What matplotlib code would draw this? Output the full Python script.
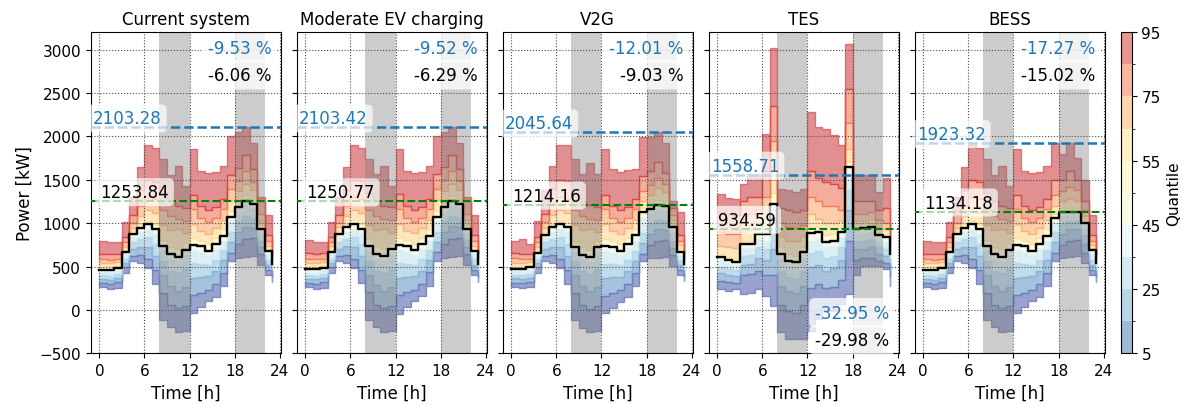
import matplotlib.pyplot as plt
import matplotlib.transforms as mtransforms
import numpy as np
from matplotlib.cm import ScalarMappable
from matplotlib.colors import BoundaryNorm, ListedColormap

hours = np.arange(24)
levels = [5, 15, 25, 35, 45, 50, 55, 65, 75, 85, 95]

# hourly load quantiles per scenario, rows follow `levels`
current_system = [
	[262, 240, 255, 430, 560, 540, 480, 300, -120, -200, -258, -240, -40, 30, 100, 150, 280, 560, 600, 610, 620, 520, 400, 320],
	[310, 300, 320, 490, 620, 630, 590, 460, 200, 60, 20, 40, 170, 200, 230, 300, 430, 660, 760, 820, 830, 640, 460, 380],
	[360, 350, 365, 540, 700, 730, 720, 620, 400, 280, 220, 260, 370, 380, 390, 450, 570, 780, 900, 960, 950, 720, 520, 420],
	[400, 395, 410, 590, 780, 820, 840, 760, 560, 450, 420, 470, 540, 530, 520, 580, 690, 900, 1020, 1080, 1060, 800, 580, 460],
	[440, 440, 455, 640, 840, 900, 930, 880, 690, 590, 560, 630, 690, 670, 630, 700, 800, 1020, 1135, 1205, 1165, 880, 640, 500],
	[465, 465, 480, 665, 875, 950, 985, 935, 740, 645, 615, 695, 750, 735, 685, 760, 850, 1075, 1185, 1254, 1220, 935, 675, 530],
	[490, 490, 505, 690, 905, 990, 1030, 990, 810, 730, 700, 770, 830, 800, 760, 830, 930, 1140, 1250, 1320, 1280, 980, 700, 545],
	[540, 540, 550, 730, 950, 1080, 1150, 1120, 980, 920, 930, 890, 990, 910, 880, 940, 1040, 1260, 1370, 1450, 1380, 1030, 740, 570],
	[590, 580, 590, 780, 1000, 1200, 1300, 1280, 1150, 1080, 1050, 1030, 1160, 1060, 1010, 1060, 1160, 1390, 1490, 1600, 1480, 1100, 790, 600],
	[650, 640, 650, 840, 1090, 1380, 1500, 1480, 1350, 1250, 1200, 1180, 1330, 1200, 1150, 1190, 1280, 1560, 1640, 1780, 1620, 1250, 860, 650],
	[800, 780, 780, 1010, 1300, 1650, 1900, 1870, 1740, 1560, 1660, 1430, 1850, 1600, 1580, 1590, 1660, 2000, 2050, 2103, 1920, 1300, 1090, 800],
]

moderate_ev = [
	[265, 242, 255, 428, 560, 545, 482, 305, -115, -200, -255, -240, -45, 30, 100, 155, 280, 565, 600, 612, 620, 522, 400, 322],
	[312, 300, 322, 490, 622, 632, 592, 462, 205, 62, 22, 42, 170, 202, 232, 302, 432, 662, 760, 822, 830, 642, 462, 382],
	[362, 352, 366, 540, 702, 732, 722, 622, 402, 282, 222, 262, 372, 382, 392, 452, 572, 782, 902, 962, 952, 722, 522, 422],
	[402, 396, 412, 590, 782, 822, 842, 762, 562, 452, 422, 472, 542, 532, 522, 582, 692, 902, 1022, 1080, 1060, 802, 582, 462],
	[442, 442, 456, 640, 842, 902, 932, 882, 692, 592, 562, 632, 692, 672, 632, 702, 802, 1020, 1132, 1200, 1162, 882, 642, 502],
	[467, 467, 482, 665, 877, 952, 987, 937, 742, 647, 617, 697, 752, 737, 687, 762, 852, 1072, 1182, 1251, 1218, 937, 677, 532],
	[492, 492, 506, 690, 907, 992, 1032, 992, 812, 732, 702, 772, 832, 802, 762, 832, 932, 1138, 1248, 1318, 1278, 982, 702, 547],
	[542, 542, 552, 732, 952, 1082, 1152, 1122, 982, 922, 932, 892, 992, 912, 882, 942, 1042, 1262, 1372, 1452, 1382, 1032, 742, 572],
	[592, 582, 592, 782, 1002, 1202, 1302, 1282, 1152, 1082, 1052, 1032, 1162, 1062, 1012, 1062, 1162, 1392, 1492, 1602, 1482, 1102, 792, 602],
	[652, 642, 652, 842, 1092, 1382, 1502, 1482, 1352, 1252, 1202, 1182, 1332, 1202, 1152, 1192, 1282, 1562, 1642, 1782, 1622, 1252, 862, 652],
	[802, 782, 782, 1012, 1302, 1652, 1902, 1872, 1742, 1562, 1662, 1432, 1852, 1602, 1582, 1592, 1662, 2002, 2052, 2103, 1922, 1302, 1092, 802],
]

v2g = [
	[270, 250, 260, 430, 560, 540, 480, 300, -120, -210, -260, -240, -40, 20, 90, 150, 280, 560, 600, 600, 610, 510, 400, 330],
	[315, 305, 320, 490, 620, 630, 590, 460, 200, 55, 15, 40, 165, 195, 225, 295, 425, 650, 750, 800, 810, 630, 460, 385],
	[365, 355, 368, 540, 700, 730, 720, 620, 400, 275, 215, 260, 365, 375, 385, 445, 565, 770, 880, 930, 925, 710, 520, 425],
	[405, 400, 412, 590, 780, 820, 840, 760, 560, 445, 415, 470, 535, 525, 515, 575, 685, 890, 990, 1040, 1030, 790, 580, 465],
	[448, 448, 465, 630, 835, 900, 930, 900, 680, 585, 555, 660, 680, 660, 630, 710, 800, 1060, 1110, 1160, 1140, 900, 630, 505],
	[473, 473, 492, 654, 866, 954, 985, 954, 723, 635, 608, 723, 742, 723, 685, 762, 858, 1127, 1166, 1214, 1196, 954, 665, 531],
	[495, 495, 510, 680, 895, 995, 1030, 1000, 800, 720, 690, 790, 820, 790, 760, 830, 930, 1180, 1220, 1270, 1250, 990, 700, 545],
	[545, 545, 555, 725, 950, 1090, 1150, 1120, 980, 920, 930, 900, 990, 910, 880, 940, 1040, 1260, 1330, 1400, 1360, 1040, 745, 575],
	[595, 585, 590, 780, 1010, 1210, 1300, 1280, 1150, 1080, 1050, 1040, 1160, 1060, 1010, 1060, 1160, 1370, 1440, 1520, 1450, 1090, 790, 600],
	[655, 645, 650, 840, 1100, 1390, 1500, 1490, 1350, 1250, 1210, 1190, 1330, 1200, 1150, 1190, 1280, 1540, 1600, 1700, 1580, 1170, 860, 650],
	[800, 820, 760, 1030, 1380, 1660, 1900, 1900, 1740, 1570, 1690, 1570, 1860, 1630, 1590, 1610, 1630, 1990, 1990, 2046, 1920, 1250, 1130, 820],
]

tes = [
	[242, 223, 242, 185, 200, 242, 165, 50, -258, -335, -335, -340, -238, -104, -8, -8, 69, 185, 400, 510, 510, 510, 470, 281],
	[330, 320, 310, 400, 410, 450, 400, 400, 60, -10, -30, 60, 250, 300, 250, 270, 350, 800, 580, 600, 600, 560, 540, 380],
	[420, 400, 390, 520, 530, 600, 580, 700, 280, 220, 200, 280, 500, 520, 450, 480, 580, 1150, 700, 700, 720, 640, 620, 460],
	[500, 480, 460, 620, 630, 720, 700, 900, 450, 380, 360, 450, 660, 680, 600, 620, 720, 1380, 800, 800, 820, 720, 700, 540],
	[570, 540, 515, 710, 715, 820, 800, 1100, 590, 510, 490, 600, 800, 820, 720, 740, 840, 1560, 880, 890, 900, 800, 780, 600],
	[608, 577, 550, 762, 762, 877, 877, 1223, 646, 569, 550, 665, 885, 904, 781, 800, 904, 1646, 935, 943, 954, 858, 839, 646],
	[640, 610, 590, 800, 800, 920, 920, 1350, 720, 640, 620, 720, 950, 960, 860, 870, 960, 1700, 960, 970, 990, 880, 870, 660],
	[740, 720, 710, 900, 920, 1000, 1050, 1650, 850, 800, 790, 850, 1100, 1050, 1000, 1000, 1030, 1850, 1020, 1020, 1050, 950, 930, 700],
	[900, 880, 870, 1050, 1100, 1150, 1300, 1950, 1000, 960, 950, 980, 1300, 1250, 1200, 1200, 1150, 2150, 1100, 1100, 1130, 1040, 1000, 760],
	[1130, 1100, 1090, 1250, 1300, 1300, 1600, 2350, 1170, 1150, 1130, 1150, 1600, 1520, 1480, 1450, 1400, 2550, 1250, 1250, 1260, 1150, 1170, 850],
	[1339, 1289, 1273, 1454, 1570, 1570, 2031, 3020, 1396, 1377, 1358, 1396, 2281, 2108, 2089, 2012, 1897, 3070, 1558, 1558, 1558, 1358, 1520, 1000],
]

bess = [
	[262, 240, 255, 430, 560, 540, 480, 300, -120, -200, -258, -240, -40, 30, 100, 150, 280, 560, 600, 610, 620, 540, 400, 320],
	[310, 300, 320, 490, 620, 630, 590, 460, 200, 60, 20, 40, 170, 200, 230, 300, 430, 660, 750, 800, 810, 660, 460, 380],
	[360, 350, 365, 540, 700, 730, 720, 620, 400, 280, 220, 260, 370, 380, 390, 450, 570, 780, 880, 930, 930, 760, 520, 420],
	[400, 395, 410, 590, 780, 820, 840, 760, 560, 450, 420, 470, 540, 530, 520, 580, 690, 900, 990, 1030, 1030, 860, 580, 460],
	[440, 440, 455, 640, 840, 900, 930, 880, 690, 590, 560, 630, 690, 670, 630, 700, 800, 1010, 1080, 1090, 1090, 950, 660, 505],
	[465, 465, 480, 665, 875, 950, 985, 935, 740, 645, 615, 695, 750, 735, 685, 760, 850, 1060, 1125, 1134, 1134, 1000, 690, 540],
	[490, 490, 505, 690, 905, 990, 1030, 990, 810, 730, 700, 770, 830, 800, 760, 830, 930, 1110, 1170, 1180, 1175, 1040, 710, 550],
	[540, 540, 550, 730, 950, 1080, 1150, 1120, 980, 920, 930, 890, 990, 910, 880, 940, 1040, 1200, 1250, 1280, 1260, 1080, 750, 570],
	[590, 580, 590, 780, 1000, 1200, 1300, 1280, 1150, 1080, 1050, 1030, 1160, 1060, 1010, 1060, 1160, 1320, 1370, 1420, 1380, 1150, 790, 600],
	[650, 640, 650, 840, 1090, 1380, 1500, 1480, 1350, 1250, 1200, 1180, 1330, 1200, 1150, 1190, 1280, 1500, 1500, 1600, 1500, 1250, 860, 650],
	[800, 780, 780, 1010, 1300, 1650, 1900, 1870, 1740, 1560, 1660, 1430, 1850, 1600, 1580, 1590, 1660, 1923, 1800, 1923, 1750, 1500, 1090, 800],
]

titles = ["Current system", "Moderate EV charging", "V2G", "TES", "BESS"]
scenarios = [current_system, moderate_ev, v2g, tes, bess]
peak_load = [2103.28, 2103.42, 2045.64, 1558.71, 1923.32]
median_peak = [1253.84, 1250.77, 1214.16, 934.59, 1134.18]
peak_change = [-9.53, -9.52, -12.01, -32.95, -17.27]
median_change = [-6.06, -6.29, -9.03, -29.98, -15.02]
change_at_bottom = [False, False, False, True, False]

cmap = plt.get_cmap("RdYlBu_r")
band_colors = cmap(np.linspace(0.03, 0.93, len(levels) - 1))
bar_colors = cmap([(a + b) / 200 for a, b in zip(levels[:-1], levels[1:])])
bar_colors[:, 3] = 0.5

fig, axes = plt.subplots(1, 5, figsize=(11.87, 4.06), sharey=True)
fig.subplots_adjust(left=0.0764, right=0.9307, bottom=0.1273, top=0.918, wspace=0.083)

box = dict(boxstyle="round,pad=0.3", fc="white", ec="none", alpha=0.7)
pct_box = dict(boxstyle="round,pad=0.35", fc="white", ec="none", alpha=0.75)

for n, ax in enumerate(axes):
	q = scenarios[n]
	for i in range(len(levels) - 1):
		ax.fill_between(hours, q[i], q[i + 1], step="post", color=band_colors[i], alpha=0.5, lw=1)
	ax.plot(hours, q[5], drawstyle="steps-post", color="k", lw=1.7, zorder=3)

	# peak hours
	ax.axvspan(8, 12, color="grey", alpha=0.4, lw=0)
	ax.axvspan(18, 22, color="grey", alpha=0.4, lw=0)

	ax.axhline(peak_load[n], ls="--", color="tab:blue", lw=1.8, zorder=4)
	ax.axhline(median_peak[n], ls="--", color="green", lw=1.5, zorder=4)

	trans = mtransforms.blended_transform_factory(ax.transAxes, ax.transData)
	ax.text(0.012, peak_load[n], "%.2f" % peak_load[n], transform=trans, color="tab:blue",
		fontsize=12, va="bottom", bbox=box, zorder=6)
	ax.text(0.05, median_peak[n], "%.2f" % median_peak[n], transform=trans, color="k",
		fontsize=12, va="bottom", bbox=box, zorder=6)

	if change_at_bottom[n]:
		y1, y2 = 0.154, 0.07
	else:
		y1, y2 = 0.979, 0.896
	ax.text(0.95, y1, "%.2f %%" % peak_change[n], transform=ax.transAxes, color="tab:blue",
		fontsize=12, ha="right", va="top", bbox=pct_box, zorder=6)
	ax.text(0.95, y2, "%.2f %%" % median_change[n], transform=ax.transAxes, color="k",
		fontsize=12, ha="right", va="top", bbox=pct_box, zorder=6)

	ax.set_title(titles[n], fontsize=12)
	ax.set_xlabel("Time [h]", fontsize=12)
	ax.set_xticks([0, 6, 12, 18, 24])
	ax.set_xlim(-1.15, 24.15)
	ax.grid(ls=":", color="0.3", lw=0.8)
	ax.tick_params(labelsize=11)

axes[0].set_ylim(-500, 3200)
axes[0].set_yticks(np.arange(-500, 3001, 500))
axes[0].set_ylabel("Power [kW]", fontsize=12)

cax = fig.add_axes([0.9441, 0.1273, 0.0093, 0.7907])
bar_cmap = ListedColormap(bar_colors)
norm = BoundaryNorm(levels, bar_cmap.N)
cb = fig.colorbar(ScalarMappable(norm=norm, cmap=bar_cmap), cax=cax, ticks=[5, 25, 45, 55, 75, 95])
cb.set_label("Quantile", fontsize=11)
cb.ax.tick_params(labelsize=11)

plt.savefig("out.png", dpi=100)
